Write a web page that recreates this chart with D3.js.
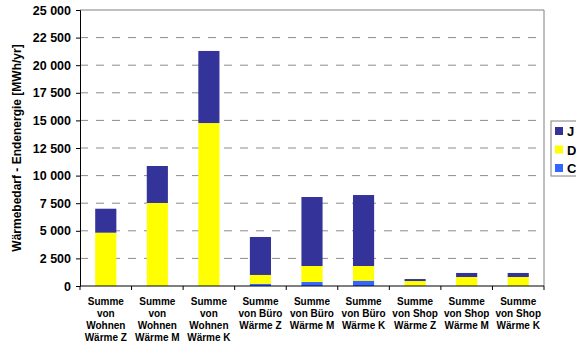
<!DOCTYPE html>
<html lang="de">
<head>
<meta charset="UTF-8">
<title>Wärmebedarf</title>
<style>
    body { margin: 0; background: #fff; }
    svg { display: block; font-family: Arial, "Liberation Sans", sans-serif; }
</style>
</head>
<body>
<svg></svg>
<script src="https://d3js.org/d3.v7.min.js"></script>
<script>
// data
var categories = [
    ["Summe", "von", "Wohnen", "Wärme Z"],
    ["Summe", "von", "Wohnen", "Wärme M"],
    ["Summe", "von", "Wohnen", "Wärme K"],
    ["Summe", "von Büro", "Wärme Z"],
    ["Summe", "von Büro", "Wärme M"],
    ["Summe", "von Büro", "Wärme K"],
    ["Summe", "von Shop", "Wärme Z"],
    ["Summe", "von Shop", "Wärme M"],
    ["Summe", "von Shop", "Wärme K"]
];
var seriesNames = ["C", "D", "J"];
var valuesC = [0, 0, 0, 200, 360, 480, 0, 0, 0];
var valuesD = [4830, 7520, 14760, 800, 1450, 1330, 450, 815, 815];
var valuesJ = [2170, 3350, 6530, 3440, 6250, 6430, 180, 365, 365];
var colors = { J: "#333399", D: "#ffff00", C: "#3366ff" };
var yTicks = [0, 2500, 5000, 7500, 10000, 12500, 15000, 17500, 20000, 22500, 25000];
var yLabel = "Wärmebedarf - Endenergie [MWh/yr]";

var svgWidth = 576, svgHeight = 347;
var margin = { top: 10, right: 32, bottom: 61, left: 80 };
var width = 544 - margin.left;
var height = 286 - margin.top;

var svg = d3.select("svg").attr("width", svgWidth).attr("height", svgHeight);
var g = svg.append("g").attr("transform", "translate(" + margin.left + "," + margin.top + ")");

var rows = categories.map(function(c, i) {
    return { i: i, C: valuesC[i], D: valuesD[i], J: valuesJ[i] };
});
var stacked = d3.stack().keys(seriesNames)(rows);

var x = d3.scaleBand().domain(d3.range(categories.length)).range([0, width]).paddingInner(0.59).paddingOuter(0.295);
var xOuter = d3.scaleBand().domain(d3.range(categories.length)).range([0, width]);
var y = d3.scaleLinear().domain([0, 25000]).range([height, 0]);

// gridlines
g.append("g").selectAll("line")
    .data(yTicks.filter(function(d) { return d > 0 && d < 25000; }))
    .enter().append("line")
    .attr("x1", 0).attr("x2", width)
    .attr("y1", function(d) { return y(d); }).attr("y2", function(d) { return y(d); })
    .attr("stroke", "#8c8c8c")
    .attr("stroke-dasharray", "8,8");

// top & right frame
g.append("path")
    .attr("d", "M0," + y(25000) + "H" + width + "V" + height)
    .attr("fill", "none").attr("stroke", "#808080");

// bars
g.selectAll(".layer")
    .data(stacked)
    .enter().append("g")
    .attr("fill", function(d) { return colors[d.key]; })
    .selectAll("rect")
    .data(function(d) { return d; })
    .enter().append("rect")
    .attr("x", function(d) { return x(d.data.i); })
    .attr("width", x.bandwidth())
    .attr("y", function(d) { return y(d[1]); })
    .attr("height", function(d) { return y(d[0]) - y(d[1]); });

// y axis
var yAxis = g.append("g")
    .call(d3.axisLeft(y).tickValues(yTicks).tickSize(4).tickPadding(5)
        .tickFormat(function(d) { return d3.format(",")(d).replace(",", " "); }));
yAxis.select(".domain").attr("stroke", "#000");
yAxis.selectAll("text").attr("font-size", 12.5).attr("font-weight", "bold").attr("fill", "#000")
    .attr("font-family", "Arial, 'Liberation Sans', sans-serif");

// x axis (ticks between categories)
var xAxisG = g.append("g").attr("transform", "translate(0," + height + ")");
xAxisG.append("line").attr("x1", 0).attr("x2", width).attr("stroke", "#000");
xAxisG.selectAll(".tk")
    .data(d3.range(categories.length + 1))
    .enter().append("line")
    .attr("x1", function(d) { return d * xOuter.step(); })
    .attr("x2", function(d) { return d * xOuter.step(); })
    .attr("y1", 0).attr("y2", 4)
    .attr("stroke", "#000");

var labels = xAxisG.selectAll(".lbl")
    .data(categories)
    .enter().append("text")
    .attr("text-anchor", "middle")
    .attr("font-size", 10)
    .attr("font-weight", "bold")
    .attr("fill", "#000")
    .attr("transform", function(d, i) { return "translate(" + (xOuter(i) + xOuter.bandwidth() / 2) + ",18.5)"; });
labels.selectAll("tspan")
    .data(function(d) { return d; })
    .enter().append("tspan")
    .attr("x", 0)
    .attr("dy", function(d, i) { return i === 0 ? 0 : 12; })
    .text(function(d) { return d; });

// y label
svg.append("text")
    .attr("transform", "translate(21," + 148 + ") rotate(-90)")
    .attr("text-anchor", "middle")
    .attr("font-size", 12)
    .attr("font-weight", "bold")
    .text(yLabel);

// legend
var legendKeys = ["J", "D", "C"];
var legend = svg.append("g").attr("transform", "translate(551,121)");
legend.append("rect")
    .attr("width", 30).attr("height", 55)
    .attr("fill", "#fff").attr("stroke", "#808080");
var items = legend.selectAll(".item")
    .data(legendKeys)
    .enter().append("g")
    .attr("transform", function(d, i) { return "translate(4," + (6 + i * 18.5) + ")"; });
items.append("rect").attr("width", 8).attr("height", 8)
    .attr("fill", function(d) { return colors[d]; });
items.append("text").attr("x", 12).attr("y", 9)
    .attr("font-size", 13).attr("font-weight", "bold")
    .text(function(d) { return d; });
</script>
</body>
</html>
